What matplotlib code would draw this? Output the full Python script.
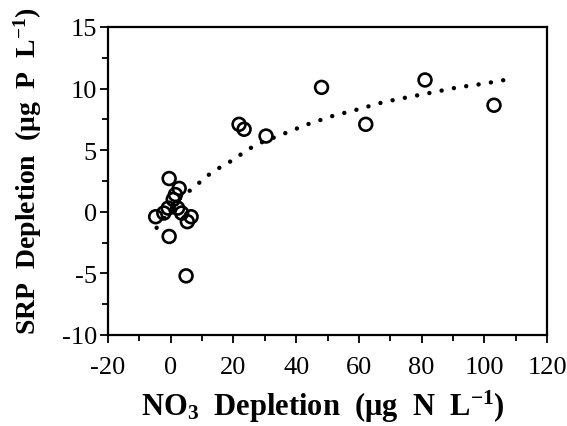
import matplotlib
matplotlib.use("Agg")
import matplotlib.pyplot as plt
from matplotlib.ticker import MultipleLocator

# Observed points (NO3 depletion, SRP depletion)
no3 = [-0.5, 2.7, 1.5, 0.8, -0.8, -2.2, -4.8, 2.2, 3.5, 6.5, 5.3, -0.5, 4.9,
       21.8, 23.4, 30.4, 48.1, 62.2, 81.1, 103.1]
srp = [2.7, 1.9, 1.4, 1.0, 0.3, -0.1, -0.4, 0.3, -0.1, -0.4, -0.8, -2.0, -5.2,
       7.1, 6.7, 6.15, 10.1, 7.1, 10.7, 8.65]

# Fitted trend line
fit_x = [-4.5, 3.0, 7.5, 11.5, 15.4, 19.8, 23.7, 27.6, 35.7, 43.6, 51.9,
         59.5, 67.8, 75.6, 83.7, 91.5, 99.9, 107.6, 109.0]
fit_y = [-1.3, 1.1, 2.0, 2.9, 3.55, 4.2, 4.9, 5.5, 6.3, 7.1, 7.8,
         8.3, 8.9, 9.3, 9.7, 10.1, 10.4, 10.75, 10.8]

x_ticks = [-20, 0, 20, 40, 60, 80, 100, 120]
y_ticks = [-10, -5, 0, 5, 10, 15]

plt.rcParams['font.family'] = ['Liberation Serif', 'DejaVu Serif']
plt.rcParams['mathtext.default'] = 'regular'
plt.rcParams['axes.unicode_minus'] = False

fig = plt.figure(figsize=(5.67, 4.27), dpi=100)
ax = fig.add_axes([108/567, 1-336/427, (547-108)/567, (336-28)/427])

ax.plot(fit_x, fit_y, color='black', linewidth=3.2,
        linestyle=(0, (0.01, 2.8)), dash_capstyle='round', zorder=2)
ax.scatter(no3, srp, s=85, facecolors='none', edgecolors='black',
           linewidths=1.9, zorder=3)

ax.set_xlim(-20, 120)
ax.set_ylim(-10, 15)
ax.set_xticks(x_ticks)
ax.set_yticks(y_ticks)
ax.xaxis.set_minor_locator(MultipleLocator(10))
ax.yaxis.set_minor_locator(MultipleLocator(2.5))
ax.tick_params(which='both', direction='out', top=False, right=False,
               width=1.3, labelsize=19)
ax.tick_params(axis='x', which='major', pad=9)
ax.tick_params(axis='y', which='major', pad=2)
ax.tick_params(which='major', length=6)
ax.tick_params(which='minor', length=4)
for sp in ax.spines.values():
    sp.set_linewidth(1.6)

ax.set_xlabel('NO$_{3}$  Depletion  (μg  N  L$^{-1}$)', fontsize=22,
              fontweight='bold')
ax.set_ylabel('SRP  Depletion  (μg  P  L$^{-1}$)', fontsize=20,
              fontweight='bold')
ax.xaxis.set_label_coords(0.49, -0.172)
ax.yaxis.set_label_coords(-0.145, 0.535)

fig.savefig('out.png', dpi=100)
